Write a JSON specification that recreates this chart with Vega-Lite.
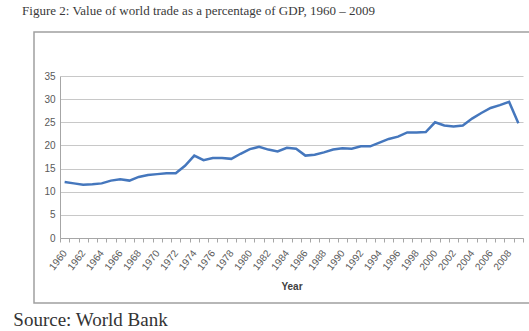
{
  "$schema": "https://vega.github.io/schema/vega-lite/v6.json",
  "background": "white",
  "padding": {"left": 13, "top": 4, "right": 5, "bottom": 5},
  "title": {"text": "Source: World Bank", "orient": "bottom", "anchor": "start", "font": "Liberation Serif", "fontSize": 19, "fontWeight": "normal", "color": "#333333", "offset": 7, "dx": -8},
  "config": {"concat": {"spacing": 0}},
  "vconcat": [
    {
      "title": {"text": "Figure 2: Value of world trade as a percentage of GDP, 1960 – 2009", "anchor": "start", "font": "Liberation Serif", "fontSize": 13, "fontWeight": "normal", "color": "#3a3a3a", "offset": 14, "dx": -8},
      "width": 499,
      "height": 271,
      "view": {"stroke": "#a0a0a0", "strokeWidth": 1.5},
      "data": {"values": [
        {"year": 1960, "value": 12.1}, {"year": 1961, "value": 11.8}, {"year": 1962, "value": 11.5},
        {"year": 1963, "value": 11.6}, {"year": 1964, "value": 11.8}, {"year": 1965, "value": 12.4},
        {"year": 1966, "value": 12.7}, {"year": 1967, "value": 12.4}, {"year": 1968, "value": 13.2},
        {"year": 1969, "value": 13.6}, {"year": 1970, "value": 13.8}, {"year": 1971, "value": 14.0},
        {"year": 1972, "value": 14.0}, {"year": 1973, "value": 15.6}, {"year": 1974, "value": 17.8},
        {"year": 1975, "value": 16.8}, {"year": 1976, "value": 17.3}, {"year": 1977, "value": 17.3},
        {"year": 1978, "value": 17.1}, {"year": 1979, "value": 18.2}, {"year": 1980, "value": 19.2},
        {"year": 1981, "value": 19.7}, {"year": 1982, "value": 19.1}, {"year": 1983, "value": 18.7},
        {"year": 1984, "value": 19.5}, {"year": 1985, "value": 19.3}, {"year": 1986, "value": 17.8},
        {"year": 1987, "value": 18.0}, {"year": 1988, "value": 18.5}, {"year": 1989, "value": 19.1},
        {"year": 1990, "value": 19.4}, {"year": 1991, "value": 19.3}, {"year": 1992, "value": 19.8},
        {"year": 1993, "value": 19.8}, {"year": 1994, "value": 20.6}, {"year": 1995, "value": 21.4},
        {"year": 1996, "value": 21.9}, {"year": 1997, "value": 22.8}, {"year": 1998, "value": 22.8},
        {"year": 1999, "value": 22.9}, {"year": 2000, "value": 25.0}, {"year": 2001, "value": 24.3},
        {"year": 2002, "value": 24.1}, {"year": 2003, "value": 24.3}, {"year": 2004, "value": 25.8},
        {"year": 2005, "value": 27.0}, {"year": 2006, "value": 28.1}, {"year": 2007, "value": 28.7},
        {"year": 2008, "value": 29.4}, {"year": 2009, "value": 24.8}
      ]},
      "mark": {"type": "line", "color": "#4577bd", "strokeWidth": 2.5},
      "encoding": {
        "x": {
          "field": "year", "type": "ordinal",
          "scale": {"type": "band", "range": [26, 489], "paddingInner": 0, "paddingOuter": 0},
          "axis": {
            "offset": -65, "title": "Year", "titleFont": "Liberation Sans", "titleFontSize": 10, "titleFontWeight": "bold", "titleColor": "#404040", "titlePadding": 10,
            "labelExpr": "datum.value % 2 == 0 ? datum.label : ''",
            "labelAngle": -52, "labelAlign": "right", "labelBaseline": "middle", "labelOverlap": false,
            "labelFont": "Liberation Sans", "labelFontSize": 10, "labelColor": "#595959", "labelPadding": 9,
            "tickBand": "extent", "tickColor": "#a6a6a6", "tickSize": 4,
            "domainColor": "#a6a6a6", "grid": false
          }
        },
        "y": {
          "field": "value", "type": "quantitative",
          "scale": {"domain": [0, 35], "range": [206, 44], "nice": false},
          "axis": {
            "offset": -26, "title": null, "values": [0, 5, 10, 15, 20, 25, 30, 35],
            "labelFont": "Liberation Sans", "labelFontSize": 10, "labelColor": "#595959", "labelPadding": 5,
            "ticks": false, "domainColor": "#a6a6a6",
            "grid": true, "gridColor": "#c8c8c8", "gridWidth": 1.2
          }
        }
      }
    }
  ]
}
